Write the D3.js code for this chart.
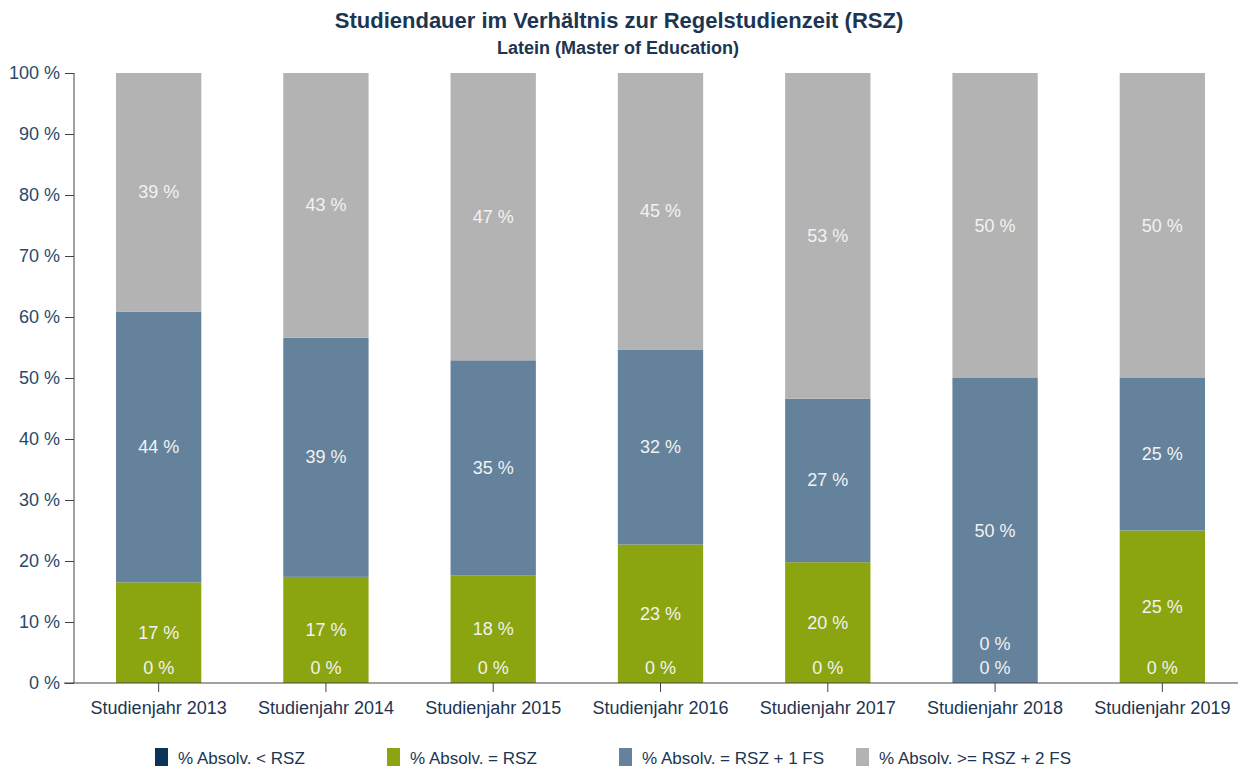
<!DOCTYPE html>
<html>
<head>
<meta charset="utf-8">
<script src="https://cdn.jsdelivr.net/npm/d3@7"></script>
<style>
  body { margin: 0; background: #fff; }
  text { font-family: "Liberation Sans", Arial, sans-serif; }
</style>
</head>
<body>
<svg width="1238" height="767"></svg>
<script>
// chart data
const years = ["Studienjahr 2013", "Studienjahr 2014", "Studienjahr 2015", "Studienjahr 2016",
               "Studienjahr 2017", "Studienjahr 2018", "Studienjahr 2019"];
const seriesNames = ["% Absolv. < RSZ", "% Absolv. = RSZ", "% Absolv. = RSZ + 1 FS", "% Absolv. >= RSZ + 2 FS"];
const lessRSZ  = [0, 0, 0, 0, 0, 0, 0];
const eqRSZ    = [16.5, 17.4, 17.6, 22.7, 19.8, 0, 25];
const plus1FS  = [44.4, 39.2, 35.3, 31.9, 26.8, 50, 25];
const plus2FS  = [39.1, 43.4, 47.1, 45.4, 53.4, 50, 50];
const yTicks = [0, 10, 20, 30, 40, 50, 60, 70, 80, 90, 100];

const colors = ["#0b3558", "#8aa510", "#64829b", "#b3b3b3"];
const allSeries = [lessRSZ, eqRSZ, plus1FS, plus2FS];

const svg = d3.select("svg");

// titles
svg.append("text").attr("x", 619).attr("y", 28).attr("text-anchor", "middle")
  .style("font-size", "22px").style("font-weight", "bold").attr("fill", "#1c3552")
  .text("Studiendauer im Verhältnis zur Regelstudienzeit (RSZ)");
svg.append("text").attr("x", 618).attr("y", 54).attr("text-anchor", "middle")
  .style("font-size", "18px").style("font-weight", "bold").attr("fill", "#1c3552")
  .text("Latein (Master of Education)");

const x = d3.scaleBand().domain(years).range([75, 1246]).paddingInner(0.49).paddingOuter(0.245);
const y = d3.scaleLinear().domain([0, 100]).range([683, 73]);

// build stacked rows
const rows = years.map((yr, i) => {
  const r = { year: yr };
  allSeries.forEach((s, k) => r["s" + k] = s[i]);
  return r;
});
const stack = d3.stack().keys(["s0", "s1", "s2", "s3"]);
const layers = stack(rows);

layers.forEach((layer, k) => {
  svg.append("g").selectAll("rect").data(layer).join("rect")
    .attr("x", d => x(d.data.year))
    .attr("width", x.bandwidth())
    .attr("y", d => y(d[1]))
    .attr("height", d => y(d[0]) - y(d[1]))
    .attr("fill", colors[k]);
});

// axes
const yAxis = svg.append("g").attr("transform", "translate(74,0)")
  .call(d3.axisLeft(y).tickValues(yTicks).tickSize(9).tickPadding(5).tickFormat(d => d + " %"));
yAxis.select(".domain").attr("stroke", "#444").attr("d", "M0,73V683");
yAxis.selectAll(".tick line").attr("stroke", "#444");
yAxis.selectAll(".tick text").style("font-size", "18px").attr("fill", "#2a4a6a");

const xAxis = svg.append("g").attr("transform", "translate(0,683)")
  .call(d3.axisBottom(x).tickSize(9).tickPadding(9));
xAxis.select(".domain").attr("stroke", "#444").attr("d", "M64,0H1238");
xAxis.selectAll(".tick line").attr("stroke", "#444");
xAxis.selectAll(".tick text").style("font-size", "18px").attr("fill", "#1c3552");

// data labels
const labelG = svg.append("g");
years.forEach((yr, i) => {
  let lastY = null;
  layers.forEach((layer, k) => {
    const d = layer[i];
    const v = d[1] - d[0];
    let ly = v > 0 ? (y(d[0]) + y(d[1])) / 2 : y(d[0]) - 15;
    if (lastY !== null && lastY - ly < 24) ly = lastY - 24;
    lastY = ly;
    labelG.append("text")
      .attr("x", x(yr) + x.bandwidth() / 2)
      .attr("y", ly)
      .attr("text-anchor", "middle")
      .attr("dominant-baseline", "central")
      .style("font-size", "18px")
      .attr("fill", "#f2f2f2")
      .text(Math.round(v) + " %");
  });
});

// legend
const legend = svg.append("g");
seriesNames.forEach((name, k) => {
  const lx = 155 + k * 232 + (k === 3 ? 5 : 0);
  legend.append("rect").attr("x", lx).attr("y", 748).attr("width", 13).attr("height", 18).attr("fill", colors[k]);
  legend.append("text").attr("x", lx + 23).attr("y", 764)
    .style("font-size", "17px").attr("fill", "#1c3552").text(name);
});
</script>
</body>
</html>
